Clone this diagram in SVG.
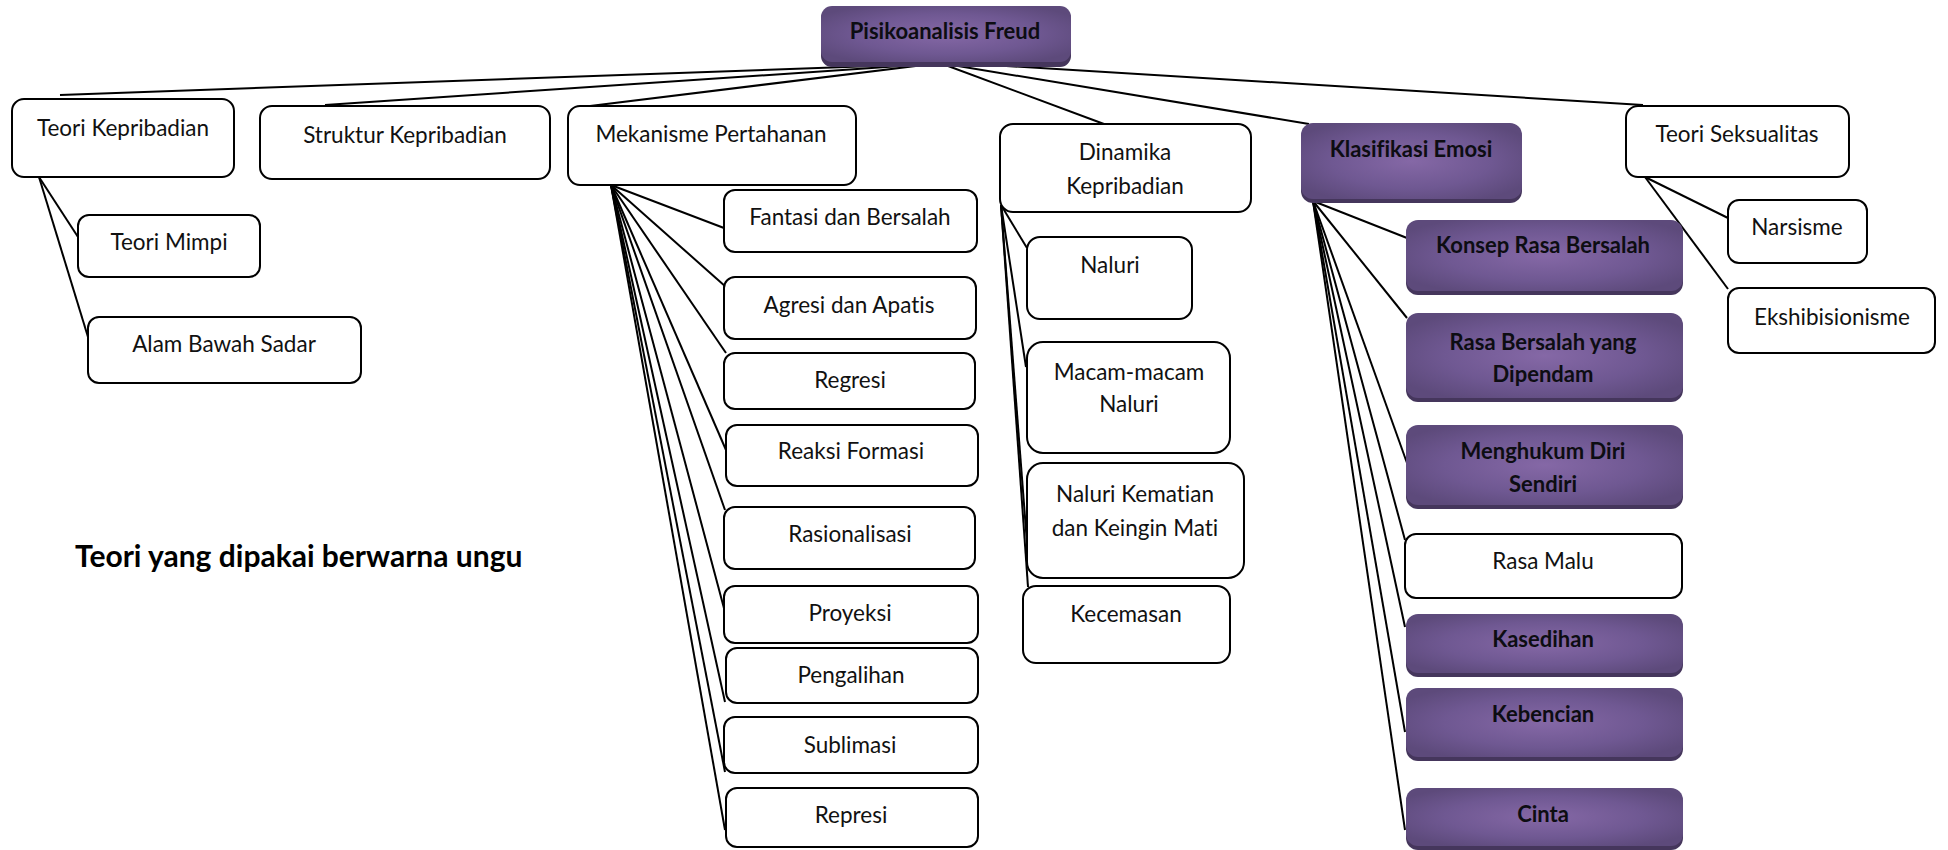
<svg xmlns="http://www.w3.org/2000/svg" width="1948" height="850" viewBox="0 0 1948 850">
<defs>
<radialGradient id="pg" cx="50%" cy="50%" r="60%">
<stop offset="0" stop-color="#8568a6"/>
<stop offset="0.6" stop-color="#6f5892"/>
<stop offset="1" stop-color="#5d4a7b"/>
</radialGradient>
<style>
.box{fill:#fff;stroke:#000;stroke-width:2}
.pb{fill:url(#pg)}
.sh{fill:#45365c}
.t{font-family:Lato,"Liberation Sans",sans-serif;font-size:22.5px;text-anchor:middle;fill:#111;font-variant-ligatures:none}
.b{font-weight:bold;fill:#0d0d12;font-size:22px}
#connectors line{stroke:#000;stroke-width:2}
</style>
</defs>
<rect width="1948" height="850" fill="#fff"/>
<g id="connectors">
<line x1="930" y1="64" x2="60" y2="95"/>
<line x1="930" y1="64" x2="325" y2="105"/>
<line x1="932" y1="64" x2="590" y2="106"/>
<line x1="940" y1="63" x2="1104" y2="124"/>
<line x1="940" y1="63" x2="1309" y2="124"/>
<line x1="942" y1="62" x2="1643" y2="105"/>
<line x1="39" y1="177" x2="78" y2="237"/>
<line x1="39" y1="177" x2="88" y2="337"/>
<line x1="611" y1="185" x2="724" y2="228"/>
<line x1="611" y1="185" x2="726" y2="287"/>
<line x1="611" y1="185" x2="726" y2="353"/>
<line x1="611" y1="185" x2="726" y2="450"/>
<line x1="611" y1="185" x2="725" y2="510"/>
<line x1="611" y1="185" x2="725" y2="612"/>
<line x1="611" y1="185" x2="725" y2="702"/>
<line x1="611" y1="185" x2="725" y2="772"/>
<line x1="611" y1="185" x2="725" y2="830"/>
<line x1="1001" y1="205" x2="1027" y2="248"/>
<line x1="1001" y1="205" x2="1026" y2="367"/>
<line x1="1001" y1="205" x2="1027" y2="543"/>
<line x1="1001" y1="205" x2="1028" y2="587"/>
<line x1="1313" y1="201" x2="1407" y2="238"/>
<line x1="1313" y1="201" x2="1407" y2="318"/>
<line x1="1313" y1="201" x2="1407" y2="463"/>
<line x1="1313" y1="201" x2="1405" y2="540"/>
<line x1="1313" y1="201" x2="1405" y2="627"/>
<line x1="1313" y1="201" x2="1405" y2="732"/>
<line x1="1313" y1="201" x2="1405" y2="830"/>
<line x1="1645" y1="177" x2="1728" y2="218"/>
<line x1="1645" y1="177" x2="1728" y2="289"/>
</g>
<g id="root">
<rect class="sh" x="821" y="8" width="250" height="59" rx="11"/>
<rect class="pb" x="821" y="6" width="250" height="56" rx="11"/>
<text class="t b" x="945" y="39">Pisikoanalisis Freud</text>
</g>
<g id="teori-kepribadian">
<rect class="box" x="12" y="99" width="222" height="78" rx="12"/>
<text class="t" x="123" y="136">Teori Kepribadian</text>
</g>
<g id="struktur-kepribadian">
<rect class="box" x="260" y="106" width="290" height="73" rx="12"/>
<text class="t" x="405" y="143">Struktur Kepribadian</text>
</g>
<g id="teori-mimpi">
<rect class="box" x="78" y="215" width="182" height="62" rx="11"/>
<text class="t" x="169" y="250">Teori Mimpi</text>
</g>
<g id="alam-bawah-sadar">
<rect class="box" x="88" y="317" width="273" height="66" rx="11"/>
<text class="t" x="224" y="352">Alam Bawah Sadar</text>
</g>
<g id="mekanisme-pertahanan">
<rect class="box" x="568" y="106" width="288" height="79" rx="12"/>
<text class="t" x="711" y="142">Mekanisme Pertahanan</text>
</g>
<g id="fantasi">
<rect class="box" x="724" y="190" width="253" height="62" rx="11"/>
<text class="t" x="850" y="225">Fantasi dan Bersalah</text>
</g>
<g id="agresi">
<rect class="box" x="724" y="277" width="252" height="62" rx="11"/>
<text class="t" x="849" y="313">Agresi dan Apatis</text>
</g>
<g id="regresi">
<rect class="box" x="724" y="353" width="251" height="56" rx="11"/>
<text class="t" x="850" y="388">Regresi</text>
</g>
<g id="reaksi-formasi">
<rect class="box" x="726" y="425" width="252" height="61" rx="11"/>
<text class="t" x="851" y="459">Reaksi Formasi</text>
</g>
<g id="rasionalisasi">
<rect class="box" x="724" y="507" width="251" height="62" rx="11"/>
<text class="t" x="850" y="542">Rasionalisasi</text>
</g>
<g id="proyeksi">
<rect class="box" x="724" y="586" width="254" height="57" rx="11"/>
<text class="t" x="850" y="621">Proyeksi</text>
</g>
<g id="pengalihan">
<rect class="box" x="726" y="648" width="252" height="55" rx="11"/>
<text class="t" x="851" y="683">Pengalihan</text>
</g>
<g id="sublimasi">
<rect class="box" x="724" y="717" width="254" height="56" rx="11"/>
<text class="t" x="850" y="753">Sublimasi</text>
</g>
<g id="represi">
<rect class="box" x="726" y="788" width="252" height="59" rx="11"/>
<text class="t" x="851" y="823">Represi</text>
</g>
<g id="dinamika-kepribadian">
<rect class="box" x="1000" y="124" width="251" height="88" rx="13"/>
<text class="t" x="1125" y="160">Dinamika</text>
<text class="t" x="1125" y="194">Kepribadian</text>
</g>
<g id="naluri">
<rect class="box" x="1027" y="237" width="165" height="82" rx="13"/>
<text class="t" x="1110" y="273">Naluri</text>
</g>
<g id="macam-naluri">
<rect class="box" x="1027" y="342" width="203" height="111" rx="16"/>
<text class="t" x="1129" y="380">Macam-macam</text>
<text class="t" x="1129" y="412">Naluri</text>
</g>
<g id="naluri-kematian">
<rect class="box" x="1027" y="463" width="217" height="115" rx="16"/>
<text class="t" x="1135" y="502">Naluri Kematian</text>
<text class="t" x="1135" y="536">dan Keingin Mati</text>
</g>
<g id="kecemasan">
<rect class="box" x="1023" y="586" width="207" height="77" rx="13"/>
<text class="t" x="1126" y="622">Kecemasan</text>
</g>
<g id="klasifikasi-emosi">
<rect class="sh" x="1301" y="127" width="221" height="76" rx="12"/>
<rect class="pb" x="1301" y="123" width="221" height="76" rx="12"/>
<text class="t b" x="1411" y="157">Klasifikasi Emosi</text>
</g>
<g id="konsep-rasa-bersalah">
<rect class="sh" x="1406" y="224" width="277" height="71" rx="12"/>
<rect class="pb" x="1406" y="220" width="277" height="71" rx="12"/>
<text class="t b" x="1543" y="253">Konsep Rasa Bersalah</text>
</g>
<g id="rasa-bersalah-dipendam">
<rect class="sh" x="1406" y="317" width="277" height="85" rx="12"/>
<rect class="pb" x="1406" y="313" width="277" height="85" rx="12"/>
<text class="t b" x="1543" y="350">Rasa Bersalah yang</text>
<text class="t b" x="1543" y="382">Dipendam</text>
</g>
<g id="menghukum-diri">
<rect class="sh" x="1406" y="429" width="277" height="80" rx="12"/>
<rect class="pb" x="1406" y="425" width="277" height="80" rx="12"/>
<text class="t b" x="1543" y="459">Menghukum Diri</text>
<text class="t b" x="1543" y="492">Sendiri</text>
</g>
<g id="rasa-malu">
<rect class="box" x="1405" y="534" width="277" height="64" rx="11"/>
<text class="t" x="1543" y="569">Rasa Malu</text>
</g>
<g id="kasedihan">
<rect class="sh" x="1406" y="618" width="277" height="59" rx="12"/>
<rect class="pb" x="1406" y="614" width="277" height="59" rx="12"/>
<text class="t b" x="1543" y="647">Kasedihan</text>
</g>
<g id="kebencian">
<rect class="sh" x="1406" y="692" width="277" height="69" rx="12"/>
<rect class="pb" x="1406" y="688" width="277" height="69" rx="12"/>
<text class="t b" x="1543" y="722">Kebencian</text>
</g>
<g id="cinta">
<rect class="sh" x="1406" y="792" width="277" height="58" rx="12"/>
<rect class="pb" x="1406" y="788" width="277" height="58" rx="12"/>
<text class="t b" x="1543" y="822">Cinta</text>
</g>
<g id="teori-seksualitas">
<rect class="box" x="1626" y="106" width="223" height="71" rx="12"/>
<text class="t" x="1737" y="142">Teori Seksualitas</text>
</g>
<g id="narsisme">
<rect class="box" x="1728" y="200" width="139" height="63" rx="11"/>
<text class="t" x="1797" y="235">Narsisme</text>
</g>
<g id="ekshibisionisme">
<rect class="box" x="1728" y="288" width="207" height="65" rx="11"/>
<text class="t" x="1832" y="325">Ekshibisionisme</text>
</g>
<g id="legend">
<text x="75" y="567" style="font-family:Lato,'Liberation Sans',sans-serif;font-size:30px;font-weight:bold;fill:#000;font-variant-ligatures:none">Teori yang dipakai berwarna ungu</text>
</g>
</svg>
